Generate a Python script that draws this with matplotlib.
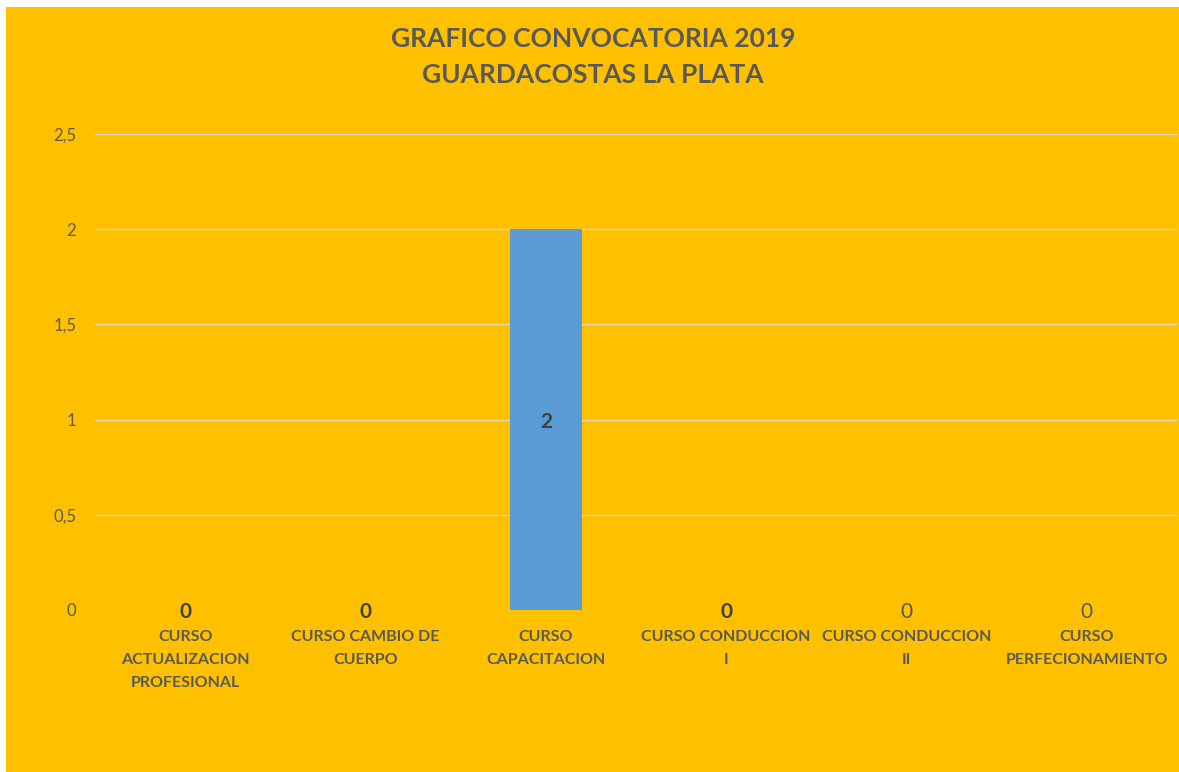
import matplotlib.pyplot as plt
from matplotlib.patches import Rectangle

# data
categories = ["CURSO\nACTUALIZACION\nPROFESIONAL", "CURSO CAMBIO DE\nCUERPO",
              "CURSO\nCAPACITACION", "CURSO CONDUCCION\nI",
              "CURSO CONDUCCION\nII", "CURSO\nPERFECIONAMIENTO"]
values = [0, 0, 2, 0, 0, 0]
label_bold = [True, True, True, True, False, False]
yticks = [0, 0.5, 1, 1.5, 2, 2.5]
ytick_labels = ["0", "0,5", "1", "1,5", "2", "2,5"]
title = "GRAFICO CONVOCATORIA 2019\nGUARDACOSTAS LA PLATA"

YELLOW = "#FFC000"
BLUE = "#5B9BD5"
GREY = "#595959"

plt.rcParams['font.family'] = ['Lato', 'DejaVu Sans']

W, H = 1179, 772
fig = plt.figure(figsize=(W / 100, H / 100), dpi=100)
fig.patch.set_facecolor("white")
# yellow chart area, a thin white margin left and top
fig.patches.append(Rectangle((6 / W, 0), 1 - 6 / W, 1 - 7 / H,
                             transform=fig.transFigure, facecolor=YELLOW,
                             edgecolor="none", zorder=-10))

ax = fig.add_axes([95 / W, 162 / H, (1177 - 95) / W, (610 - 134) / H])
ax.set_facecolor("none")
x = list(range(len(categories)))
bars = ax.bar(x, values, width=0.4, color=BLUE, zorder=3)

ax.set_xlim(-0.5, len(categories) - 0.5)
ax.set_ylim(0, 2.5)
ax.set_yticks(yticks)
ax.set_yticklabels(ytick_labels, fontsize=12, color=GREY)
ax.set_xticks(x)
ax.set_xticklabels(categories, fontsize=11.5, fontweight="bold", color=GREY,
                   linespacing=1.8)
ax.tick_params(axis="y", length=0, pad=13.5)
ax.tick_params(axis="x", length=0, pad=14.5)
ax.grid(axis="y", color="#E3D9B8", linewidth=1, zorder=1)
for s in ax.spines.values():
    s.set_visible(False)

for xi, v, b in zip(x, values, label_bold):
    ax.text(xi, v / 2, str(v), ha="center", va="center_baseline", fontsize=15,
            fontweight="bold" if b else "normal",
            color="#404040" if b else GREY, zorder=4)

fig.text(593 / W, 1 - 57 / H, title, ha="center", va="center", fontsize=19,
         fontweight="bold", color=GREY, linespacing=1.6)

fig.savefig("out.png", dpi=100)
